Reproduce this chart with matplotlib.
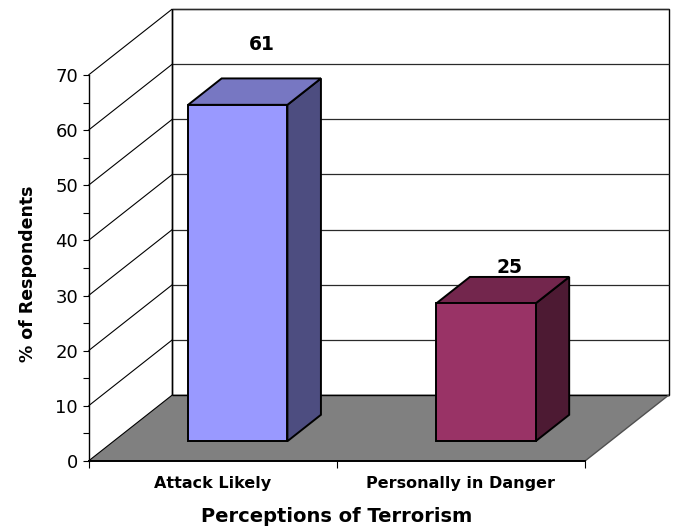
import matplotlib.pyplot as plt
from matplotlib.patches import Polygon

# survey results
categories = ["Attack Likely", "Personally in Danger"]
values = [61, 25]
y_ticks = [0, 10, 20, 30, 40, 50, 60, 70]

front_colors = ["#9999FF", "#993366"]
top_colors = ["#7777C2", "#73264D"]
side_colors = ["#4D4D80", "#4D1A33"]

W, H = 673, 529
fig = plt.figure(figsize=(W / 100, H / 100), dpi=100)
fig.patch.set_facecolor("white")

# front plane of the fake 3d box, in pixels
x0, x1 = 88.5, 585.0
y0, y1 = 461.0, 75.0
ax = fig.add_axes([x0 / W, (H - y0) / H, (x1 - x0) / W, (y0 - y1) / H])
ax.set_xlim(0, len(categories))
ax.set_ylim(0, 70)
ax.patch.set_visible(False)

# depth offset of the box (full depth), in data units
DX = 83.8 / ((x1 - x0) / len(categories))
DY = 66.0 / ((y0 - y1) / 70)


def proj(x, y, d):
    return (x + d * DX, y + d * DY)


def face(pts, fc, ec="black", lw=1.0, z=1):
    ax.add_patch(Polygon([proj(*p) for p in pts], closed=True, facecolor=fc,
                         edgecolor=ec, linewidth=lw, zorder=z, clip_on=False,
                         joinstyle="miter"))


def line(p, q, color="black", lw=0.8, z=2):
    a, b = proj(*p), proj(*q)
    ax.plot([a[0], b[0]], [a[1], b[1]], color=color, lw=lw, zorder=z,
            clip_on=False, solid_capstyle="butt")


n = len(categories)
top = y_ticks[-1]

# back wall
face([(0, 0, 1), (n, 0, 1), (n, top, 1), (0, top, 1)], "white", lw=1.0, z=0)
for t in y_ticks:
    line((0, t, 1), (n, t, 1), color="#2a2a2a", lw=0.9, z=1)

# floor
face([(0, 0, 0), (n, 0, 0), (n, 0, 1), (0, 0, 1)], "#808080", ec="none", z=2)
line((0, 0, 1), (n, 0, 1), color="black", lw=1.0, z=3)
line((n, 0, 0), (n, 0, 1), color="#505050", lw=1.0, z=3)

# side wall lines
for t in y_ticks:
    line((0, t, 0), (0, t, 1), color="black", lw=0.8, z=3)
line((0, 0, 1), (0, top, 1), color="black", lw=1.0, z=3)

# bars
bw = 0.4
d0, d1 = 0.3, 0.7
label_gap = [22.0, 5.0]
for i, v in enumerate(values):
    c = i + 0.5
    l, r = c - bw / 2, c + bw / 2
    face([(r, 0, d0), (r, 0, d1), (r, v, d1), (r, v, d0)], side_colors[i], lw=1.4, z=4)
    face([(l, v, d0), (r, v, d0), (r, v, d1), (l, v, d1)], top_colors[i], lw=1.4, z=4)
    face([(l, 0, d0), (r, 0, d0), (r, v, d0), (l, v, d0)], front_colors[i], lw=1.4, z=5)
    ax.annotate(str(v), xy=proj(c - 0.005, v, 0.6), xytext=(0, label_gap[i]),
                textcoords="offset points", ha="center", va="bottom",
                fontsize=13.5, fontweight="bold", annotation_clip=False)

# axes
for s in ["top", "right"]:
    ax.spines[s].set_visible(False)
ax.spines["left"].set_linewidth(1.0)
ax.spines["bottom"].set_linewidth(1.4)
ax.spines["left"].set_zorder(6)
ax.spines["bottom"].set_zorder(6)

ax.set_yticks(y_ticks)
ax.set_yticks(range(5, 70, 10), minor=True)
ax.tick_params(axis="y", which="both", direction="out", length=4, width=0.8,
               pad=3.5, labelsize=13)

ax.set_xticks(range(n + 1))
ax.set_xticklabels([""] * (n + 1))
ax.set_xticks([i + 0.5 for i in range(n)], minor=True)
ax.set_xticklabels(categories, minor=True)
ax.tick_params(axis="x", which="major", direction="out", length=5, width=0.8)
ax.tick_params(axis="x", which="minor", length=0, pad=11, labelsize=11.5)
for lab in ax.get_xticklabels(minor=True):
    lab.set_fontweight("bold")

ax.set_ylabel("% of Respondents", fontsize=12.5, fontweight="bold")
ax.yaxis.set_label_coords(-0.122, 0.485)
ax.yaxis.label.set_va("center")
ax.set_xlabel("Perceptions of Terrorism", fontsize=14, fontweight="bold")
ax.xaxis.set_label_coords(0.5, -0.145)
ax.xaxis.label.set_va("center")

fig.savefig("out.png", dpi=100)
